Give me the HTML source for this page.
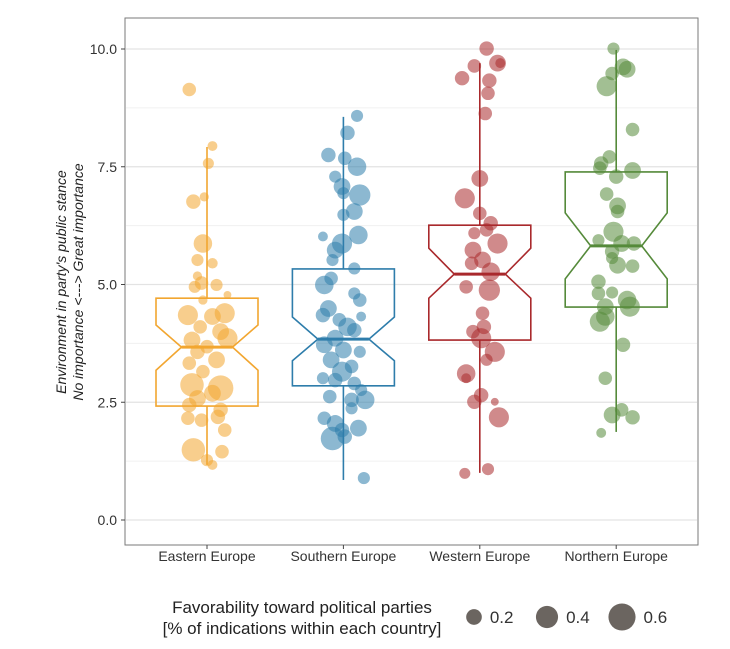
<!DOCTYPE html>
<html><head><meta charset="utf-8"><style>
body{margin:0;background:#fff;}
svg{display:block;font-family:"Liberation Sans",sans-serif;}
</style></head><body>
<svg id="chart" width="730" height="649" viewBox="0 0 730 649" xmlns="http://www.w3.org/2000/svg">
<rect x="125" y="18" width="573" height="527" fill="#fff" stroke="#7a7a7a" stroke-width="1"/>
<g id="grid"></g>
<g id="yaxis"></g>
<g id="xaxis"></g>
<g id="points"></g>
<g id="boxes"></g>
<text transform="translate(66,282) rotate(-90)" text-anchor="middle" font-size="14" font-style="italic" fill="#222"><tspan x="0" dy="0">Environment in party's public stance</tspan><tspan x="0" dy="17">No importance &lt;---&gt; Great importance</tspan></text>
<g id="legend">
<text x="302" y="613" text-anchor="middle" font-size="17" fill="#222"><tspan x="302">Favorability toward political parties</tspan><tspan x="302" dy="21">[% of indications within each country]</tspan></text>
</g>
</svg>
<script>
const categories=["Eastern Europe","Southern Europe","Western Europe","Northern Europe"];
const yTicks=[0,2.5,5,7.5,10];
const yTickLabels=["0.0","2.5","5.0","7.5","10.0"];
const colors=["#f2a630","#2e7dab","#a9292c","#558a3a"];
const q1=[2.42,2.85,3.82,4.52];
const medians=[3.67,3.84,5.22,5.82];
const q3=[4.71,5.33,6.26,7.39];
const notchLo=[3.18,3.38,4.71,5.12];
const notchHi=[4.14,4.31,5.77,6.52];
const whiskLo=[1.17,0.85,1.0,1.87];
const whiskHi=[7.92,8.56,9.7,9.98];
const legendValues=[0.2,0.4,0.6];
const eastV=[9.14,7.94,7.57,6.76,6.86,5.87,5.52,5.45,5.18,5.03,4.99,4.95,4.78,4.67,4.35,4.32,4.39,4.10,4.00,3.82,3.86,3.68,3.57,3.40,3.33,3.15,2.87,2.80,2.58,2.69,2.44,2.34,2.16,2.12,2.19,1.91,1.49,1.45,1.27,1.17];
const eastJ=[-.13,.04,.01,-.10,-.02,-.03,-.07,.04,-.07,-.04,.07,-.09,.15,-.03,-.14,.04,.13,-.05,.10,-.11,.15,0,-.07,.07,-.13,-.03,-.11,.10,-.07,.04,-.13,.10,-.14,-.04,.08,.13,-.10,.11,0,.04];
const eastF=[.15,.08,.10,.17,.07,.28,.12,.09,.07,.15,.12,.12,.05,.07,.33,.23,.33,.15,.23,.23,.33,.15,.17,.23,.15,.15,.45,.53,.23,.23,.17,.17,.15,.15,.17,.15,.45,.15,.12,.08];
const southV=[8.58,8.22,7.75,7.68,7.50,7.29,7.08,6.90,6.94,6.55,6.48,6.05,6.02,5.87,5.73,5.52,5.34,4.99,5.13,4.81,4.67,4.49,4.35,4.25,4.32,4.10,4.03,3.86,3.72,3.61,3.57,3.40,3.26,3.15,3.01,2.97,2.90,2.76,2.62,2.55,2.55,2.37,2.16,2.05,1.91,1.95,1.73,1.77,0.89];
const southJ=[.10,.03,-.11,.01,.10,-.06,-.01,.12,0,.08,0,.11,-.15,-.01,-.06,-.08,.08,-.14,-.09,.08,.12,-.11,-.15,-.03,.13,.03,.08,-.06,-.14,0,.12,-.09,.06,-.01,-.15,-.06,.08,.13,-.10,.06,.16,.06,-.14,-.06,-.01,.11,-.08,.01,.15];
const southF=[.12,.17,.17,.15,.28,.12,.23,.37,.12,.23,.12,.28,.08,.33,.23,.12,.12,.28,.15,.12,.15,.23,.17,.15,.08,.28,.17,.23,.23,.23,.12,.23,.15,.33,.12,.17,.15,.12,.15,.17,.28,.12,.15,.23,.17,.23,.45,.17,.12];
const westV=[10.01,9.70,9.70,9.64,9.38,9.33,9.06,8.63,7.25,6.83,6.51,6.30,6.09,5.87,6.16,5.73,5.52,5.45,5.27,4.95,4.88,4.39,4.10,4.00,3.86,3.57,3.40,3.11,3.01,2.65,2.51,2.51,2.18,0.99,1.08];
const westJ=[.05,.13,.15,-.04,-.13,.07,.06,.04,0,-.11,0,.08,-.04,.13,.05,-.05,.02,-.06,.08,-.10,.07,.02,.03,-.05,.01,.11,.05,-.10,-.10,.01,-.04,.11,.14,-.11,.06];
const westF=[.17,.23,.08,.15,.17,.17,.15,.15,.23,.33,.15,.17,.12,.33,.15,.23,.23,.15,.28,.15,.37,.15,.17,.15,.33,.33,.12,.28,.08,.17,.17,.05,.33,.10,.12];
const northV=[10.01,9.62,9.57,9.48,9.21,8.29,7.71,7.57,7.47,7.29,7.42,6.92,6.67,6.55,6.12,5.94,5.87,5.87,5.70,5.56,5.41,5.39,5.06,4.81,4.83,4.67,4.53,4.53,4.32,4.21,3.72,3.01,2.23,2.34,2.18,1.85];
const northJ=[-.02,.05,.08,-.03,-.07,.12,-.05,-.11,-.12,0,.12,-.07,.01,.01,-.02,-.13,.04,.13,-.03,-.03,.01,.12,-.13,-.13,-.03,.08,-.08,.10,-.08,-.12,.05,-.08,-.03,.04,.12,-.11];
const northF=[.12,.23,.23,.15,.33,.15,.15,.17,.15,.17,.23,.15,.23,.15,.33,.12,.23,.17,.17,.12,.23,.15,.17,.15,.12,.28,.23,.33,.28,.33,.17,.15,.23,.15,.17,.08];
const seriesV=[eastV,southV,westV,northV];
const seriesJ=[eastJ,southJ,westJ,northJ];
const seriesF=[eastF,southF,westF,northF];

const NS="http://www.w3.org/2000/svg";
const yS=v=>520-47.1*v;
const xS=i=>207+136.4*i;
const rS=f=>17.5*Math.sqrt(f);
const BW=51;
function mk(tag,attrs,parent){const e=document.createElementNS(NS,tag);for(const k in attrs)e.setAttribute(k,attrs[k]);parent.appendChild(e);return e;}
const grid=document.getElementById('grid');
for(let v=0;v<=10.001;v+=1.25){
  const major=Math.abs(v/2.5-Math.round(v/2.5))<1e-6;
  const l=mk('line',{x1:126,x2:697,y1:yS(v),y2:yS(v),stroke:major?'#e3e3e3':'#f0f0f0','stroke-width':major?1.2:0.9},grid);
  
  
}
const ya=document.getElementById('yaxis');
yTicks.forEach((v,i)=>{
  const t=mk('line',{x1:121,x2:125,y1:yS(v),y2:yS(v),stroke:'#444'},ya);
  
  
  const tx=mk('text',{x:117,y:yS(v)+5,'text-anchor':'end','font-size':14,fill:'#333'},ya);
  tx.textContent=yTickLabels[i];
  
  
});
const xa=document.getElementById('xaxis');
categories.forEach((c,i)=>{
  const t=mk('line',{x1:xS(i),x2:xS(i),y1:545,y2:549,stroke:'#444'},xa);
  
  
  const tx=mk('text',{x:xS(i),y:561,'text-anchor':'middle','font-size':14,fill:'#333'},xa);
  tx.textContent=c;
  
  
});
const pts=document.getElementById('points');
seriesV.forEach((vals,i)=>{
  vals.forEach((v,j)=>{
    const c=mk('circle',{cx:xS(i)+seriesJ[i][j]*136.4,cy:yS(v),r:rS(seriesF[i][j]),fill:colors[i],'fill-opacity':0.55},pts);
    
    
  });
});
const bx=document.getElementById('boxes');
categories.forEach((c,i)=>{
  const x=xS(i),L=x-BW,R=x+BW,nL=x-BW/2,nR=x+BW/2;
  const w1=mk('line',{x1:x,x2:x,y1:yS(q3[i]),y2:yS(whiskHi[i]),stroke:colors[i],'stroke-width':1.6},bx);
  
  
  const w2=mk('line',{x1:x,x2:x,y1:yS(q1[i]),y2:yS(whiskLo[i]),stroke:colors[i],'stroke-width':1.6},bx);
  
  
  const p=[[L,yS(q3[i])],[R,yS(q3[i])],[R,yS(notchHi[i])],[nR,yS(medians[i])],[R,yS(notchLo[i])],[R,yS(q1[i])],[L,yS(q1[i])],[L,yS(notchLo[i])],[nL,yS(medians[i])],[L,yS(notchHi[i])]];
  const b=mk('polygon',{points:p.map(a=>a.join(',')).join(' '),fill:'none',stroke:colors[i],'stroke-width':1.6},bx);
  
  
  const m=mk('line',{x1:nL,x2:nR,y1:yS(medians[i]),y2:yS(medians[i]),stroke:colors[i],'stroke-width':3},bx);
  
  
});
const lg=document.getElementById('legend');
const lx=[474,547,622];
legendValues.forEach((v,i)=>{
  const c=mk('circle',{cx:lx[i],cy:617,r:rS(v),fill:'#6b6560'},lg);
  
  
  const t=mk('text',{x:lx[i]+rS(v)+8,y:623,'font-size':17,fill:'#333'},lg);
  t.textContent=v.toFixed(1);
  
  
});
</script>
</body></html>
